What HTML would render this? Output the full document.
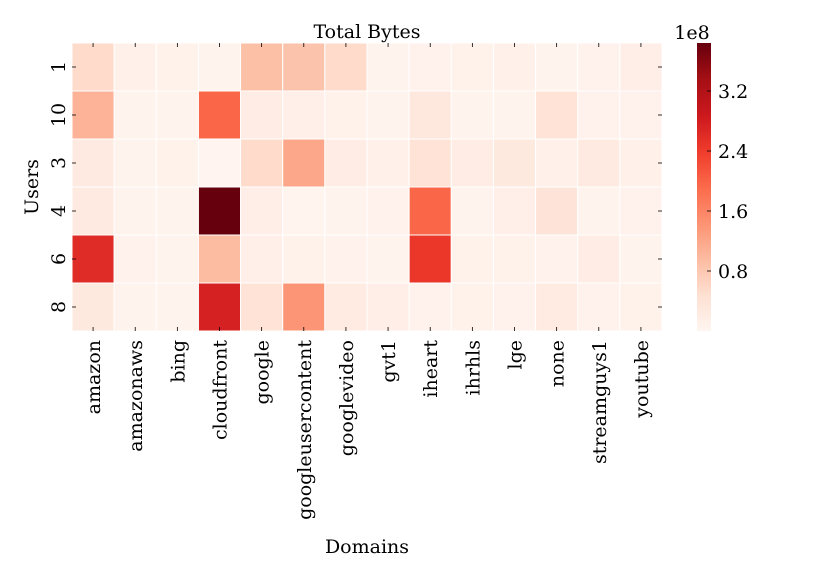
<!DOCTYPE html>
<html><head><meta charset="utf-8"><style>
html,body{margin:0;padding:0;background:#fff;}
svg text{font-family:"DejaVu Serif","Liberation Serif",serif;fill:#000;}
</style></head><body>
<svg id="chart" width="830" height="581" viewBox="0 0 830 581" xmlns="http://www.w3.org/2000/svg">
<text x="367" y="38" font-size="19" text-anchor="middle">Total Bytes</text>
<g id="cells"></g>
<g id="xlabels"></g>
<g id="ylabels"></g>
<text x="367" y="553" font-size="19" text-anchor="middle">Domains</text>
<text transform="translate(38,187) rotate(-90)" font-size="19" text-anchor="middle">Users</text>
<defs><linearGradient id="cbg" x1="0" y1="1" x2="0" y2="0"></linearGradient></defs>
<rect x="697" y="43" width="14" height="288" fill="url(#cbg)"/>
<g id="cbticks"></g>
<text x="692" y="39" font-size="19" text-anchor="middle">1e8</text>
</svg>
<script>
const domains=["amazon","amazonaws","bing","cloudfront","google","googleusercontent","googlevideo","gvt1","iheart","ihrhls","lge","none","streamguys1","youtube"];
const users=["1","10","3","4","6","8"];
const row1=[0.55,0.1,0.08,0.04,0.9,0.85,0.55,0.05,0.06,0.08,0.1,0.05,0.06,0.15];
const row10=[1.05,0.04,0.04,1.95,0.2,0.13,0.08,0.04,0.32,0.05,0.05,0.42,0.06,0.06];
const row3=[0.26,0.05,0.08,0.02,0.55,1.2,0.2,0.1,0.42,0.2,0.28,0.1,0.26,0.1];
const row4=[0.26,0.05,0.04,3.84,0.15,0.03,0.05,0.06,1.95,0.05,0.13,0.38,0.05,0.06];
const row6=[2.6,0.06,0.05,0.95,0.13,0.08,0.06,0.05,2.45,0.08,0.08,0.06,0.2,0.05];
const row8=[0.28,0.04,0.04,2.75,0.42,1.4,0.23,0.15,0.06,0.08,0.06,0.23,0.06,0.08];
const cbTicks=[0.8,1.6,2.4,3.2];
const rows=[row1,row10,row3,row4,row6,row8];
const vmin=0,vmax=3.84;
const X0=72,X1=662,Y0=43,Y1=331;
const cw=(X1-X0)/domains.length, ch=(Y1-Y0)/users.length;
const stops=["#fff5f0","#fee0d2","#fcbba1","#fc9272","#fb6a4a","#ef3b2c","#cb181d","#a50f15","#67000d"];
function hex(h){return [1,3,5].map(i=>parseInt(h.substr(i,2),16));}
function color(v){let t=Math.max(0,Math.min(1,(v-vmin)/(vmax-vmin)))*(stops.length-1);let i=Math.min(stops.length-2,Math.floor(t));let f=t-i;let a=hex(stops[i]),b=hex(stops[i+1]);return "rgb("+a.map((c,k)=>Math.round(c+(b[k]-c)*f)).join(",")+")";}
const NS="http://www.w3.org/2000/svg";
const cells=document.getElementById('cells');
rows.forEach((r,ri)=>r.forEach((v,ci)=>{
 const e=document.createElementNS(NS,'rect');
 e.setAttribute('x',X0+ci*cw);e.setAttribute('y',Y0+ri*ch);
 e.setAttribute('width',cw);e.setAttribute('height',ch);
 e.setAttribute('fill',color(v));e.setAttribute('stroke','#fff');e.setAttribute('stroke-width','1');
 
 
 cells.appendChild(e);
}));
const xl=document.getElementById('xlabels');
domains.forEach((d,i)=>{
 const cx=X0+(i+0.5)*cw;
 const t=document.createElementNS(NS,'text');
 t.setAttribute('transform','translate('+(cx+7)+',340) rotate(-90)');
 t.setAttribute('font-size','19');t.setAttribute('text-anchor','end');
 t.textContent=d;
 
 
 xl.appendChild(t);
 [[Y0,Y0+4],[Y1-4,Y1]].forEach(([a,b])=>{const l=document.createElementNS(NS,'line');l.setAttribute('x1',cx);l.setAttribute('x2',cx);l.setAttribute('y1',a);l.setAttribute('y2',b);l.setAttribute('stroke','#000');l.setAttribute('stroke-width','0.8');
 
 
 xl.appendChild(l);});
});
const yl=document.getElementById('ylabels');
users.forEach((u,i)=>{
 const cy=Y0+(i+0.5)*ch;
 const t=document.createElementNS(NS,'text');
 t.setAttribute('transform','translate(65,'+cy+') rotate(-90)');
 t.setAttribute('font-size','19');t.setAttribute('text-anchor','middle');
 t.textContent=u;
 
 
 yl.appendChild(t);
 [[X0,X0+4],[X1-4,X1]].forEach(([a,b])=>{const l=document.createElementNS(NS,'line');l.setAttribute('y1',cy);l.setAttribute('y2',cy);l.setAttribute('x1',a);l.setAttribute('x2',b);l.setAttribute('stroke','#000');l.setAttribute('stroke-width','0.8');
 
 
 yl.appendChild(l);});
});
const g=document.getElementById('cbg');
stops.forEach((s,i)=>{const st=document.createElementNS(NS,'stop');st.setAttribute('offset',i/(stops.length-1));st.setAttribute('stop-color',s);g.appendChild(st);});
const cbt=document.getElementById('cbticks');
cbTicks.forEach(v=>{
 const y=Y1-(v-vmin)/(vmax-vmin)*(Y1-Y0);
 const l=document.createElementNS(NS,'line');l.setAttribute('x1',707);l.setAttribute('x2',711);l.setAttribute('y1',y);l.setAttribute('y2',y);l.setAttribute('stroke','#000');l.setAttribute('stroke-width','0.8');
 
 
 cbt.appendChild(l);
 const t=document.createElementNS(NS,'text');t.setAttribute('x',718);t.setAttribute('y',y+7);t.setAttribute('font-size','19');t.textContent=v.toFixed(1);
 
 
 cbt.appendChild(t);
});
</script>
</body></html>
